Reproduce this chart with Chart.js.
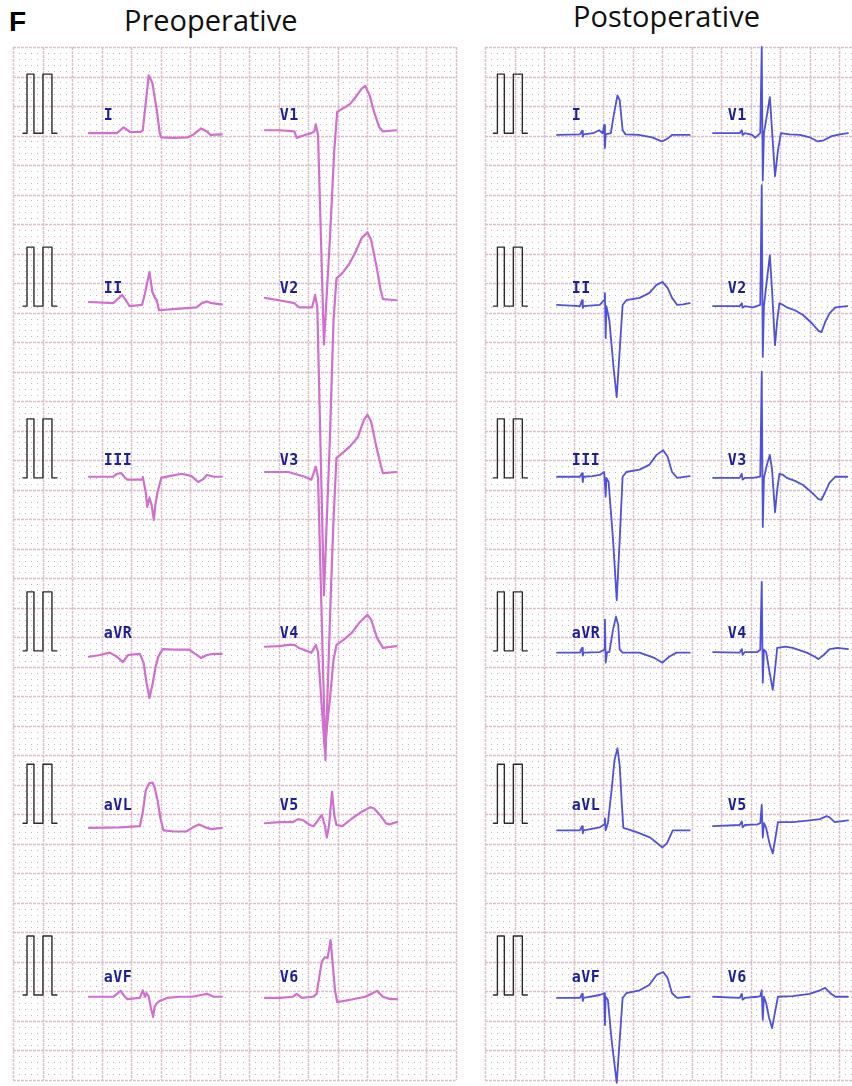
<!DOCTYPE html>
<html>
<head>
<meta charset="utf-8">
<script src="https://cdn.jsdelivr.net/npm/chart.js@4.4.1/dist/chart.umd.min.js"></script>
<style>
  html, body { margin: 0; padding: 0; background: #fff; }
  #wrap { position: relative; width: 852px; height: 1086px; overflow: hidden; }
  #ecg { position: absolute; left: 0; top: 0; }
  .title { position: absolute; font-family: 'Open Sans', sans-serif; font-size: 29px; line-height: 1; color: #111; white-space: nowrap; }
  #tag { position: absolute; left: 9px; top: 8px; font: bold 28px 'Liberation Sans', Arial, sans-serif; line-height: 1; color: #000; }
</style>
</head>
<body>
<div id="wrap">
  <div id="tag">F</div>
  <div class="title" style="left:124px; top:5px;">Preoperative</div>
  <div class="title" style="left:573px; top:1px;">Postoperative</div>
  <canvas id="ecg" width="852" height="1086"></canvas>
</div>
<script>
// paper: 0.2 s and 0.5 mV per big square (25 mm/s, 10 mm/mV)
const X_MAX = 5.688;
const Y_MIN = -17.5;
const PANELS = [[0, 3.0], [3.2, X_MAX]];
const ROW_BASE = [-1.46, -4.39, -7.30, -10.23, -13.15, -16.06];
const CAL_START = [0.068, 3.257];
const COL_START = { preLimb: 0.515, preChest: 1.708, postLimb: 3.688, postChest: 4.746 };

const limbLeads = ['I', 'II', 'III', 'aVR', 'aVL', 'aVF'];
const chestLeads = ['V1', 'V2', 'V3', 'V4', 'V5', 'V6'];

// 1 mV calibration, two pulses
const calPulse = [[0,0],[0.027,0],[0.027,1],[0.074,1],[0.074,0],[0.135,0],[0.135,1],[0.196,1],[0.196,0],[0.23,0]];

// [time s, mV] from start of each strip -- preoperative
const preI = [[0,0],[0.19,0],[0.235,0.1],[0.28,0.02],[0.35,0.02],[0.365,0.05],[0.405,0.98],[0.43,0.85],[0.46,0.39],[0.48,0],[0.49,-0.07],[0.58,-0.08],[0.67,-0.07],[0.71,-0.02],[0.76,0.08],[0.8,0.03],[0.825,-0.03],[0.9,-0.02]];
const preII = [[0,0.07],[0.165,0.05],[0.195,0.12],[0.225,0.19],[0.25,0.1],[0.275,0],[0.36,0.02],[0.38,0.22],[0.41,0.58],[0.43,0.24],[0.445,0.15],[0.46,0.1],[0.475,-0.07],[0.57,-0.05],[0.73,-0.02],[0.765,0.05],[0.8,0.08],[0.83,0.05],[0.9,0.03]];
const preIII = [[0,0.02],[0.165,0.02],[0.19,0.07],[0.22,0.08],[0.245,0],[0.26,-0.03],[0.36,-0.03],[0.365,0.02],[0.385,-0.25],[0.395,-0.49],[0.41,-0.34],[0.425,-0.46],[0.44,-0.71],[0.45,-0.46],[0.465,-0.24],[0.49,0],[0.545,0.03],[0.63,0.07],[0.695,0.03],[0.74,-0.07],[0.775,-0.02],[0.8,0.05],[0.85,0.02],[0.9,0.02]];
const preAVR = [[0,-0.1],[0.075,-0.07],[0.14,-0.03],[0.19,-0.1],[0.23,-0.19],[0.265,-0.07],[0.345,-0.05],[0.37,-0.2],[0.39,-0.54],[0.41,-0.8],[0.43,-0.58],[0.45,-0.29],[0.47,-0.1],[0.5,0.03],[0.58,0.02],[0.68,0.02],[0.72,-0.05],[0.76,-0.12],[0.8,-0.07],[0.845,-0.05],[0.9,-0.05]];
const preAVL = [[0,-0.08],[0.21,-0.07],[0.345,-0.05],[0.365,0.19],[0.385,0.56],[0.41,0.68],[0.43,0.69],[0.445,0.61],[0.465,0.39],[0.485,0.08],[0.505,-0.12],[0.58,-0.14],[0.66,-0.14],[0.705,-0.07],[0.745,-0.02],[0.79,-0.07],[0.83,-0.1],[0.9,-0.08]];
const preAVF = [[0,-0.03],[0.165,-0.03],[0.19,0.02],[0.215,0.07],[0.24,-0.02],[0.26,-0.07],[0.345,-0.05],[0.365,0.08],[0.38,-0.03],[0.39,0.03],[0.405,-0.02],[0.42,-0.22],[0.435,-0.37],[0.445,-0.2],[0.46,-0.14],[0.48,-0.1],[0.53,-0.05],[0.615,-0.03],[0.7,-0.03],[0.76,0],[0.8,0.02],[0.845,-0.03],[0.9,-0.03]];
const preV1 = [[0,0.05],[0.1,0.05],[0.2,0.03],[0.215,-0.08],[0.27,-0.03],[0.315,0],[0.335,0.03],[0.345,0.15],[0.36,-0.03],[0.4,-3.58],[0.44,-1.81],[0.47,-0.29],[0.49,0.36],[0.53,0.42],[0.575,0.49],[0.615,0.61],[0.655,0.75],[0.68,0.8],[0.71,0.64],[0.74,0.36],[0.775,0.1],[0.8,0.03],[0.89,0.05]];
const preV2 = [[0,0.14],[0.095,0.1],[0.2,0.05],[0.23,-0.02],[0.32,-0.02],[0.34,0.19],[0.355,-0.02],[0.4,-4.9],[0.44,-2.27],[0.465,-0.24],[0.485,0.47],[0.525,0.56],[0.575,0.73],[0.615,0.92],[0.655,1.15],[0.695,1.25],[0.72,1.12],[0.755,0.69],[0.785,0.27],[0.8,0.12],[0.89,0.1]];
const preV3 = [[0,0.1],[0.095,0.1],[0.16,0.1],[0.2,0.07],[0.27,0.02],[0.315,-0.03],[0.345,0.19],[0.36,0],[0.41,-4.78],[0.445,-2.07],[0.465,-0.71],[0.485,0.34],[0.535,0.44],[0.575,0.53],[0.63,0.69],[0.67,0.98],[0.695,1.07],[0.72,0.95],[0.755,0.53],[0.785,0.22],[0.8,0.08],[0.89,0.1]];
const preV4 = [[0,0.07],[0.095,0.08],[0.16,0.1],[0.2,0.1],[0.23,0.05],[0.315,-0.03],[0.345,0.1],[0.36,-0.02],[0.405,-1.66],[0.44,-0.83],[0.465,-0.15],[0.485,0.1],[0.535,0.19],[0.59,0.31],[0.645,0.49],[0.695,0.61],[0.72,0.53],[0.76,0.22],[0.8,0.05],[0.89,0.08]];
const preV5 = [[0,0],[0.1,0.02],[0.19,0.02],[0.225,0.07],[0.26,0.05],[0.305,-0.03],[0.33,-0.05],[0.36,0.05],[0.385,0.14],[0.405,-0.03],[0.42,-0.24],[0.435,-0.03],[0.455,0.53],[0.47,0.14],[0.485,-0.03],[0.525,-0.05],[0.59,0.08],[0.66,0.2],[0.715,0.27],[0.74,0.25],[0.78,0.14],[0.82,0],[0.845,-0.02],[0.895,0.02]];
const preV6 = [[0,-0.05],[0.1,-0.05],[0.19,-0.03],[0.215,0.02],[0.25,-0.05],[0.325,-0.03],[0.35,0.02],[0.385,0.56],[0.405,0.64],[0.425,0.63],[0.445,0.93],[0.46,0.51],[0.475,0.08],[0.49,-0.12],[0.58,-0.08],[0.68,-0.03],[0.73,0.03],[0.76,0.07],[0.8,-0.03],[0.85,-0.07],[0.895,-0.07]];

// postoperative (paced)
const postI = [[0,-0.03],[0.155,-0.02],[0.17,0.04],[0.175,-0.06],[0.18,-0.02],[0.245,0],[0.285,0.05],[0.31,0],[0.32,0.14],[0.325,-0.25],[0.33,-0.02],[0.365,0],[0.385,0.31],[0.41,0.64],[0.425,0.56],[0.445,0.05],[0.465,-0.02],[0.555,-0.03],[0.645,-0.07],[0.71,-0.14],[0.745,-0.1],[0.78,-0.03],[0.9,-0.03]];
const postII = [[0,0.02],[0.155,0],[0.17,0.1],[0.175,-0.03],[0.18,0],[0.29,0.02],[0.32,0.1],[0.325,0.22],[0.33,-0.54],[0.335,0],[0.355,-0.24],[0.385,-1.08],[0.405,-1.54],[0.425,-0.75],[0.445,0.02],[0.47,0.1],[0.56,0.14],[0.625,0.22],[0.675,0.36],[0.715,0.41],[0.75,0.31],[0.78,0.14],[0.815,0.02],[0.855,0.03],[0.9,0.05]];
const postIII = [[0,0.02],[0.155,0.02],[0.17,0.08],[0.175,-0.07],[0.18,0.02],[0.24,0.03],[0.29,0.05],[0.32,0.1],[0.33,-0.32],[0.335,0],[0.35,-0.07],[0.38,-1.05],[0.405,-2.07],[0.425,-1.05],[0.445,0.02],[0.47,0.1],[0.56,0.14],[0.625,0.22],[0.675,0.39],[0.72,0.47],[0.75,0.36],[0.78,0.1],[0.815,0],[0.9,0.03]];
const postAVR = [[0,-0.03],[0.155,-0.03],[0.17,0.05],[0.175,-0.08],[0.18,-0.03],[0.29,-0.02],[0.32,0.02],[0.325,0.53],[0.33,-0.2],[0.34,-0.02],[0.355,-0.02],[0.38,0.36],[0.4,0.58],[0.415,0.44],[0.425,0.02],[0.445,-0.03],[0.56,-0.03],[0.66,-0.12],[0.715,-0.2],[0.76,-0.1],[0.81,-0.03],[0.9,-0.03]];
const postAVL = [[0,-0.12],[0.155,-0.12],[0.17,-0.05],[0.175,-0.17],[0.18,-0.12],[0.29,-0.07],[0.32,-0.02],[0.325,0.08],[0.33,-0.12],[0.345,0],[0.37,0.56],[0.39,1.07],[0.41,1.27],[0.425,0.98],[0.44,0.31],[0.45,-0.08],[0.54,-0.15],[0.63,-0.24],[0.68,-0.34],[0.715,-0.41],[0.745,-0.34],[0.785,-0.12],[0.9,-0.12]];
const postAVF = [[0,-0.05],[0.155,-0.05],[0.17,0.02],[0.175,-0.1],[0.18,-0.05],[0.29,0],[0.32,0.03],[0.325,-0.51],[0.33,-0.03],[0.345,-0.08],[0.37,-0.76],[0.405,-1.49],[0.425,-0.76],[0.445,-0.05],[0.47,0.03],[0.56,0.08],[0.625,0.17],[0.675,0.34],[0.72,0.39],[0.75,0.29],[0.78,0.03],[0.815,-0.05],[0.9,-0.03]];
const postV1 = [[0,0],[0.18,0],[0.195,0.05],[0.2,-0.03],[0.215,0],[0.265,-0.03],[0.285,-0.08],[0.32,0],[0.33,1.46],[0.337,-0.8],[0.345,0],[0.36,0.22],[0.385,0.61],[0.4,0.05],[0.42,-0.73],[0.44,-0.29],[0.46,0],[0.52,-0.02],[0.59,-0.03],[0.655,-0.07],[0.71,-0.14],[0.75,-0.12],[0.805,-0.05],[0.86,-0.02],[0.915,0]];
const postV2 = [[0,0],[0.18,0],[0.195,0.05],[0.2,-0.03],[0.215,0],[0.27,-0.02],[0.32,0.02],[0.33,2.05],[0.337,-0.86],[0.345,0],[0.365,0.44],[0.385,0.86],[0.4,0.27],[0.42,-0.66],[0.435,-0.24],[0.45,0.05],[0.475,0.02],[0.5,-0.02],[0.555,-0.07],[0.61,-0.15],[0.67,-0.29],[0.715,-0.42],[0.735,-0.44],[0.76,-0.27],[0.79,-0.12],[0.83,-0.02],[0.91,0]];
const postV3 = [[0,0],[0.18,0],[0.195,0.07],[0.2,-0.03],[0.215,0],[0.27,0],[0.32,0.02],[0.33,1.8],[0.337,-0.83],[0.345,0],[0.365,0.22],[0.385,0.39],[0.4,0.14],[0.42,-0.58],[0.435,-0.2],[0.45,0.07],[0.475,0.05],[0.5,0],[0.555,-0.05],[0.61,-0.12],[0.67,-0.25],[0.715,-0.36],[0.735,-0.37],[0.76,-0.24],[0.79,-0.08],[0.83,0.02],[0.91,0.02]];
const postV4 = [[0,-0.02],[0.18,-0.03],[0.195,0.03],[0.2,-0.07],[0.215,-0.02],[0.3,-0.02],[0.32,0.02],[0.33,1.17],[0.337,-0.54],[0.345,0.02],[0.36,-0.02],[0.38,-0.32],[0.405,-0.66],[0.42,-0.32],[0.435,0.05],[0.49,0.07],[0.54,0.05],[0.635,-0.03],[0.69,-0.1],[0.715,-0.14],[0.75,-0.07],[0.79,0.03],[0.845,0.05],[0.915,0.03]];
const postV5 = [[0,-0.05],[0.18,-0.03],[0.195,0.03],[0.2,-0.07],[0.215,-0.03],[0.3,-0.02],[0.32,0],[0.33,0.31],[0.337,-0.24],[0.345,0],[0.36,-0.08],[0.385,-0.37],[0.405,-0.51],[0.42,-0.29],[0.44,0.02],[0.54,0.02],[0.655,0.05],[0.725,0.07],[0.77,0.12],[0.79,0.1],[0.825,0.02],[0.915,0.05]];
const postV6 = [[0,-0.03],[0.18,-0.05],[0.195,0.02],[0.2,-0.08],[0.215,-0.05],[0.3,-0.03],[0.32,-0.02],[0.33,0.08],[0.337,-0.42],[0.345,-0.03],[0.36,-0.14],[0.38,-0.39],[0.4,-0.56],[0.42,-0.29],[0.44,-0.03],[0.54,-0.02],[0.655,0.02],[0.725,0.08],[0.76,0.12],[0.795,0.03],[0.83,-0.03],[0.915,-0.03]];

const preLimb = [preI, preII, preIII, preAVR, preAVL, preAVF];
const preChest = [preV1, preV2, preV3, preV4, preV5, preV6];
const postLimb = [postI, postII, postIII, postAVR, postAVL, postAVF];
const postChest = [postV1, postV2, postV3, postV4, postV5, postV6];

const PRE_COLOR = '#d070cc';
const POST_COLOR = '#5050dc';
const CAL_COLOR = '#2b2b2b';

function strip(points, t0, base, color, width) {
  return {
    data: points.map(([t, v]) => ({ x: t0 + t, y: base + v })),
    borderColor: color,
    borderWidth: width,
    pointRadius: 0,
    tension: 0,
    clip: false,
    borderJoinStyle: 'round',
    borderCapStyle: 'round',
  };
}

const datasets = [];
ROW_BASE.forEach((base, i) => {
  CAL_START.forEach((t0) => datasets.push(strip(calPulse, t0, base, CAL_COLOR, 1.4)));
  datasets.push(strip(preLimb[i], COL_START.preLimb, base, PRE_COLOR, 2.2));
  datasets.push(strip(preChest[i], COL_START.preChest, base, PRE_COLOR, 2.2));
  datasets.push(strip(postLimb[i], COL_START.postLimb, base, POST_COLOR, 1.8));
  datasets.push(strip(postChest[i], COL_START.postChest, base, POST_COLOR, 1.8));
});

// pink ruled paper with dotted 1 mm squares
const ecgPaper = {
  id: 'ecgPaper',
  beforeDatasetsDraw(chart) {
    const { ctx, scales: { x, y } } = chart;
    const top = y.getPixelForValue(0);
    const bottom = y.getPixelForValue(Y_MIN);
    const nRows = Math.round(-Y_MIN / 0.1);
    ctx.save();
    PANELS.forEach(([t0, t1]) => {
      const left = x.getPixelForValue(t0);
      const right = x.getPixelForValue(t1);
      const nCols = Math.floor((t1 - t0) / 0.04 + 1e-6);
      ctx.fillStyle = '#b9b9b9';
      for (let i = 1; i <= nCols; i++) {
        if (i % 5 === 0) continue;
        const px = Math.round(x.getPixelForValue(t0 + i * 0.04));
        for (let j = 1; j < nRows; j++) {
          if (j % 5 === 0) continue;
          const py = Math.round(y.getPixelForValue(-j * 0.1));
          ctx.fillRect(px, py, 1, 1);
        }
      }
      ctx.strokeStyle = '#d9c0ca';
      ctx.lineWidth = 1.5;
      ctx.setLineDash([3, 1]);
      for (let i = 0; i <= nCols; i += 5) {
        const px = Math.round(x.getPixelForValue(t0 + i * 0.04)) + 0.5;
        ctx.beginPath();
        ctx.moveTo(px, top);
        ctx.lineTo(px, bottom);
        ctx.stroke();
      }
      for (let j = 0; j <= nRows; j += 5) {
        const py = Math.round(y.getPixelForValue(-j * 0.1)) + 0.5;
        ctx.beginPath();
        ctx.moveTo(left, py);
        ctx.lineTo(right, py);
        ctx.stroke();
      }
    });
    ctx.restore();
  },
};

const leadLabels = {
  id: 'leadLabels',
  afterDatasetsDraw(chart) {
    const { ctx, scales: { x, y } } = chart;
    ctx.save();
    ctx.font = 'bold 15px "DejaVu Sans Mono", monospace';
    ctx.letterSpacing = '0.5px';
    ctx.fillStyle = '#1e1e96';
    ctx.textBaseline = 'middle';
    ROW_BASE.forEach((base, i) => {
      const py = y.getPixelForValue(base + 0.29);
      [COL_START.preLimb, COL_START.postLimb].forEach((t0) => ctx.fillText(limbLeads[i], x.getPixelForValue(t0 + 0.1), py));
      [COL_START.preChest, COL_START.postChest].forEach((t0) => ctx.fillText(chestLeads[i], x.getPixelForValue(t0 + 0.1), py));
    });
    ctx.restore();
  },
};

new Chart(document.getElementById('ecg'), {
  type: 'line',
  data: { datasets },
  options: {
    responsive: false,
    animation: false,
    events: [],
    layout: { padding: { left: 13, top: 47, right: 0, bottom: 6 } },
    plugins: { legend: { display: false }, tooltip: { enabled: false }, title: { display: false } },
    scales: {
      x: { type: 'linear', display: false, min: 0, max: X_MAX },
      y: { type: 'linear', display: false, min: Y_MIN, max: 0 },
    },
  },
  plugins: [ecgPaper, leadLabels],
});
</script>
</body>
</html>
